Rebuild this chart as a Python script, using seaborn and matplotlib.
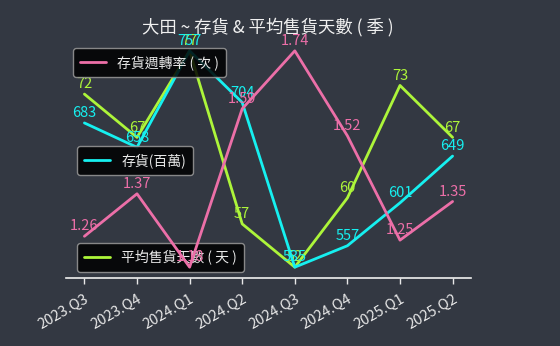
import matplotlib
matplotlib.use("Agg")
import matplotlib.pyplot as plt
import seaborn as sns
import pandas as pd

quarters = ["2023.Q3", "2023.Q4", "2024.Q1", "2024.Q2", "2024.Q3", "2024.Q4", "2025.Q1", "2025.Q2"]
turnover = [1.26, 1.37, 1.18, 1.59, 1.74, 1.52, 1.25, 1.35]
inventory = [683, 658, 757, 704, 535, 557, 601, 649]
days = [72, 67, 77, 57, 52, 60, 73, 67]

title = "大田 ~ 存貨 & 平均售貨天數 ( 季 )"
lab_turn = "存貨週轉率 ( 次 )"
lab_inv = "存貨(百萬)"
lab_days = "平均售貨天數 ( 天 )"

BG = "#333842"
PINK = "#ec6fa8"
CYAN = "#16f0f0"
GREEN = "#adf53a"

sns.set_theme(style="white")
plt.rcParams["font.family"] = ["Noto Sans CJK TC", "DejaVu Sans"]

df = pd.DataFrame({"q": quarters, "turn": turnover, "inv": inventory, "days": days})
df["x"] = range(len(df))

fig = plt.figure(figsize=(5.6, 3.46), dpi=100, facecolor=BG)
ax = fig.add_axes([66/560, 1 - 278/346, (471 - 66)/560, (278 - 40)/346])
ax2 = ax.twinx()
ax3 = ax.twinx()

for a in (ax, ax2, ax3):
    a.set_facecolor("none")
    for s in a.spines.values():
        s.set_visible(False)
ax.set_facecolor(BG)

def draw(a, col, color, label, fmt):
    sns.lineplot(data=df, x="x", y=col, ax=a, color=color, linewidth=2, label=label)
    for xi, v in zip(df["x"], df[col]):
        a.annotate(fmt(v), (xi, v), xytext=(0, 2), textcoords="offset points",
                   ha="center", va="bottom", color=color, fontsize=10.5)
    a.set_ylabel("")
    a.set_yticks([])

draw(ax, "days", GREEN, lab_days, lambda v: f"{v:d}")
draw(ax2, "inv", CYAN, lab_inv, lambda v: f"{v:d}")
draw(ax3, "turn", PINK, lab_turn, lambda v: f"{v:.2f}")

ax.set_xticks(df["x"])
ax.set_xticklabels(quarters, rotation=30, ha="right", rotation_mode="anchor",
                   color="#e8e8e8", fontsize=10.5)
ax.tick_params(axis="x", colors="#e8e8e8", length=4, width=1, direction="out", bottom=True, pad=6)
ax.spines["bottom"].set_visible(True)
ax.spines["bottom"].set_color("#f0f0f0")
ax.spines["bottom"].set_linewidth(1.2)
ax2.tick_params(axis="x", bottom=False, labelbottom=False)
ax3.tick_params(axis="x", bottom=False, labelbottom=False)
ax.set_xlabel("")

def style_leg(a, pos):
    leg = a.legend(loc="upper left", bbox_to_anchor=pos, bbox_transform=fig.transFigure,
                   facecolor="black", edgecolor="#9a9a9a", framealpha=0.85,
                   fontsize=10, handlelength=1.9, handletextpad=0.8,
                   borderpad=0.5, borderaxespad=0)
    for t in leg.get_texts():
        t.set_color("#e8e8e8")
    return leg

style_leg(ax, (77/560, 1 - 243/346))
style_leg(ax2, (77/560, 1 - 146/346))
style_leg(ax3, (73/560, 1 - 48/346))

fig.text(268/560, 1 - 27/346, title, ha="center", va="center", color="#f0f0f0", fontsize=12.5)

fig.savefig("out.png", dpi=100, facecolor=BG)
